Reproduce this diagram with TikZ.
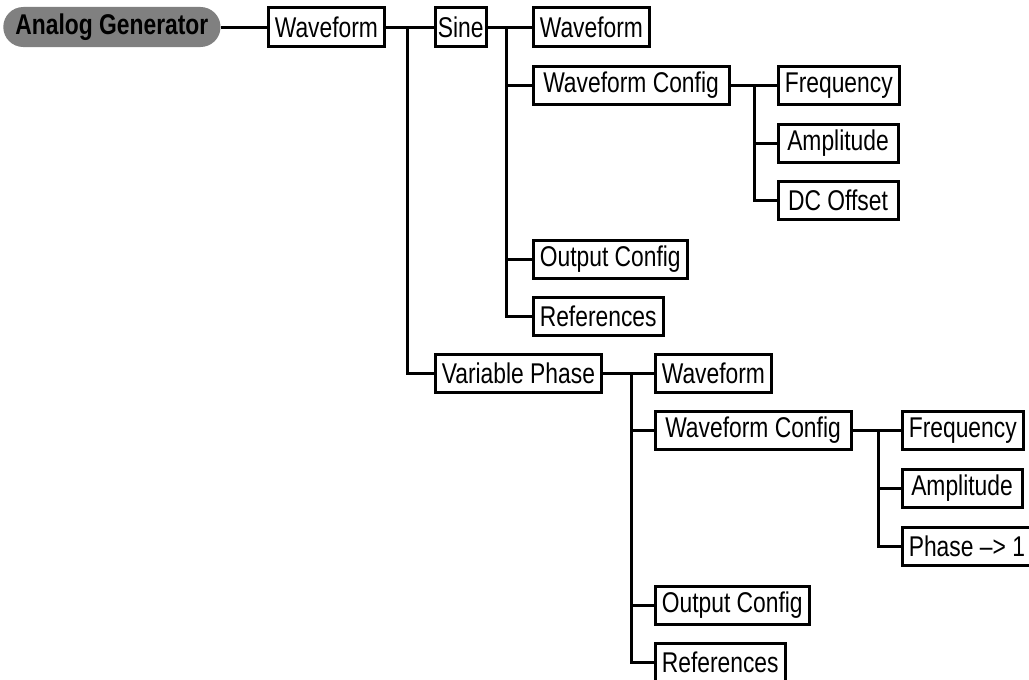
\documentclass[tikz,border=0pt]{standalone}
\usepackage{fontspec}
\setmainfont{Liberation Sans}[FakeStretch=0.8]
\usetikzlibrary{positioning}
\tikzset{
	menu/.style={draw, line width=0.075cm, anchor=west, minimum height=0.95cm,
		inner xsep=0.17cm, inner ysep=0pt, font=\fontsize{20.3}{24}\selectfont},
	leaf/.style={menu, minimum width=3.0cm},
	config/.style={menu, minimum width=4.9cm},
	root/.style={fill=black!50, rounded corners=0.5cm, anchor=west, minimum height=1cm,
		minimum width=5.43cm, font=\fontsize{20.3}{24}\selectfont\bfseries},
	link/.style={line width=0.075cm},
}

\begin{document}
\begin{tikzpicture}[x=0.025cm, y=-0.025cm]
					\useasboundingbox (0,0) rectangle (1029,679);

					\node[root] (ag) at (3,27) {Analog Generator};
					\node[menu] (wf) at (266.5,27) {Waveform};
					\node[menu, inner xsep=0.07cm] (sine) at (433.5,27) {Sine};
					\node[menu] (vp) at (433.5,373) {Variable Phase};

					\node[menu] (swf) at (531.5,27) {Waveform};
					\node[config] (swc) at (531.5,85.5) {Waveform Config};
					\node[menu] (soc) at (531.5,259) {Output Config};
					\node[menu] (sref) at (531.5,316) {References};

					\node[leaf] (sfreq) at (776.5,85.5) {Frequency};
					\node[leaf] (samp) at (776.5,143) {Amplitude};
					\node[leaf] (sdc) at (776.5,200.5) {DC Offset};

					\node[menu] (vwf) at (653.5,373) {Waveform};
					\node[config] (vwc) at (653.5,430.5) {Waveform Config};
					\node[menu] (voc) at (653.5,605) {Output Config};
					\node[menu] (vref) at (653.5,662) {References};

					\node[leaf] (vfreq) at (900.5,430.5) {Frequency};
					\node[leaf] (vamp) at (900.5,488) {Amplitude};
					\node[leaf] (vph) at (900.5,546) {Phase \textendash> 1};

					\coordinate (b1) at (407,27);
					\coordinate (b2) at (506,27);
					\coordinate (b3) at (754,85.5);
					\coordinate (b4) at (631,373);
					\coordinate (b5) at (878,430.5);

					\draw[link] (ag.east) -- (wf.west);
					\draw[link] (wf.east) -- (sine.west);
					\draw[link] (b1) |- (vp.west);

					\draw[link] (sine.east) -- (swf.west);
					\draw[link] (b2) |- (sref.west);
					\foreach \c in {swc,soc}
						\draw[link] (b2 |- \c.west) -- (\c.west);

					\draw[link] (swc.east) -- (sfreq.west);
					\draw[link] (b3) |- (sdc.west);
					\draw[link] (b3 |- samp.west) -- (samp.west);

					\draw[link] (vp.east) -- (vwf.west);
					\draw[link] (b4) |- (vref.west);
					\foreach \c in {vwc,voc}
						\draw[link] (b4 |- \c.west) -- (\c.west);

					\draw[link] (vwc.east) -- (vfreq.west);
					\draw[link] (b5) |- (vph.west);
					\draw[link] (b5 |- vamp.west) -- (vamp.west);

\end{tikzpicture}
\end{document}
